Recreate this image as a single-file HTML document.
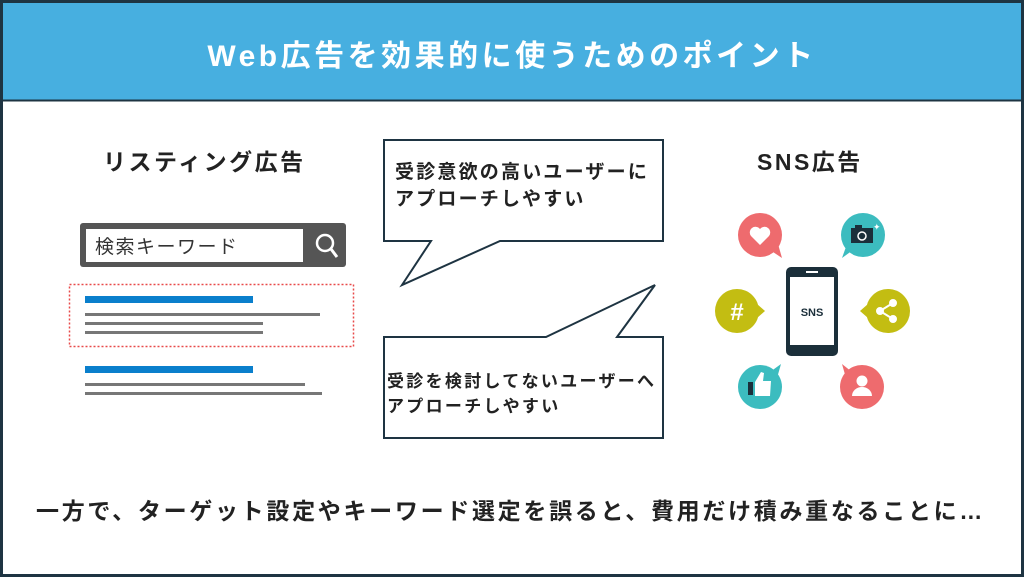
<!DOCTYPE html>
<html><head><meta charset="utf-8"><style>
body{margin:0;width:1024px;height:577px;overflow:hidden;background:#fff;font-family:"Liberation Sans","Noto Sans CJK JP",sans-serif}
.t{position:absolute;white-space:nowrap;font-weight:bold;color:#222}
</style></head><body>
<svg width="1024" height="577" style="position:absolute;left:0;top:0">
<rect x="1.5" y="1.5" width="1021" height="574" fill="#fff" stroke="#1e3442" stroke-width="3"/>
<rect x="3" y="3" width="1018" height="97" fill="#47afe0"/>
<line x1="2" y1="100.5" x2="1022" y2="100.5" stroke="#1e3442" stroke-width="2"/>
<rect x="80" y="223" width="266" height="44" rx="3" fill="#555"/>
<rect x="86" y="229" width="217" height="33" fill="#fff"/>
<circle cx="325" cy="243" r="8" fill="none" stroke="#fff" stroke-width="2.5"/>
<line x1="331" y1="249" x2="337" y2="257" stroke="#fff" stroke-width="3"/>
<rect x="69.5" y="284.5" width="284" height="62" fill="none" stroke="#e84a4a" stroke-width="1.5" stroke-dasharray="2,2"/>
<rect x="85" y="296" width="168" height="7" fill="#0a7fcc"/>
<rect x="85" y="313" width="235" height="3" fill="#777"/>
<rect x="85" y="322" width="178" height="3" fill="#777"/>
<rect x="85" y="331" width="178" height="3" fill="#777"/>
<rect x="85" y="366" width="168" height="7" fill="#0a7fcc"/>
<rect x="85" y="383" width="220" height="3" fill="#777"/>
<rect x="85" y="392" width="237" height="3" fill="#777"/>
<path d="M384,140 H663 V241 H500 L402,285 L431,241 H384 Z" fill="#fff" stroke="#1e3442" stroke-width="2"/>
<path d="M384,337 H546 L655,285 L617,337 H663 V438 H384 Z" fill="#fff" stroke="#1e3442" stroke-width="2"/>
<g>
<circle cx="760" cy="235" r="22" fill="#ee6b6e"/><path d="M770,250 L782,258 L778,244Z" fill="#ee6b6e"/>
<path d="M760,245 L751,236 A5,5 0 0 1 760,229 A5,5 0 0 1 769,236 Z" fill="#fff"/>
<circle cx="863" cy="235" r="22" fill="#3cbcbf"/><path d="M853,250 L842,258 L847,244Z" fill="#3cbcbf"/>
<rect x="851" y="228" width="22" height="15" fill="#1b2f3a"/><rect x="855" y="225" width="7" height="4" fill="#1b2f3a"/><circle cx="862" cy="236" r="4" fill="none" stroke="#fff" stroke-width="1.5"/><text x="873" y="230" fill="#fff" font-size="9">✦</text>
<circle cx="737" cy="311" r="22" fill="#c3bd12"/><path d="M757,304 L765,311 L757,318Z" fill="#c3bd12"/>
<text x="737" y="320" fill="#fff" font-size="24" font-weight="bold" text-anchor="middle" font-family="Liberation Sans">#</text>
<circle cx="888" cy="311" r="22" fill="#c3bd12"/><path d="M868,304 L860,311 L868,318Z" fill="#c3bd12"/>
<g stroke="#fff" stroke-width="2" fill="#fff"><line x1="880" y1="311" x2="893" y2="303"/><line x1="880" y1="311" x2="893" y2="319"/><circle cx="880" cy="311" r="3"/><circle cx="893" cy="303" r="3"/><circle cx="893" cy="319" r="3"/></g>
<circle cx="760" cy="387" r="22" fill="#3cbcbf"/><path d="M770,372 L781,364 L777,378Z" fill="#3cbcbf"/>
<rect x="748" y="382" width="5" height="13" fill="#1b2f3a"/><path d="M755,382 L761,372 L764,373 L763,381 L771,381 L770,396 L755,396Z" fill="#fff"/>
<circle cx="862" cy="387" r="22" fill="#ee6b6e"/><path d="M852,372 L842,364 L846,378Z" fill="#ee6b6e"/>
<circle cx="862" cy="381" r="5.5" fill="#fff"/><path d="M852,396 A10,9 0 0 1 872,396 Z" fill="#fff"/>
<rect x="786" y="267" width="52" height="89" rx="5" fill="#1b2f3a"/><rect x="790" y="277" width="44" height="68" fill="#fff"/><rect x="806" y="271" width="12" height="2" fill="#fff"/>
<text x="812" y="316" font-size="11" font-weight="bold" fill="#1b2f3a" text-anchor="middle" font-family="Liberation Sans">SNS</text>
</g>
</svg>
<div class="t" style="left:0;width:1024px;text-align:center;top:31px;font-size:30px;letter-spacing:3.5px;color:#fff">Web広告を効果的に使うためのポイント</div>
<div class="t" style="left:103px;top:143px;font-size:23px;letter-spacing:2.5px">リスティング広告</div>
<div class="t" style="left:757px;top:143px;font-size:23px;letter-spacing:2.5px">SNS広告</div>
<div class="t" style="left:95px;top:232px;font-size:19px;letter-spacing:1.5px;font-weight:normal;color:#333">検索キーワード</div>
<div class="t" style="left:395px;top:159px;font-size:19px;letter-spacing:2.2px;line-height:27px">受診意欲の高いユーザーに<br>アプローチしやすい</div>
<div class="t" style="left:387px;top:369px;font-size:17px;letter-spacing:2.3px;line-height:25px">受診を検討してないユーザーへ<br>アプローチしやすい</div>
<div class="t" style="left:36px;top:492px;font-size:23px;letter-spacing:2.7px">一方で、ターゲット設定やキーワード選定を誤ると、費用だけ積み重なることに…</div>
</body></html>
